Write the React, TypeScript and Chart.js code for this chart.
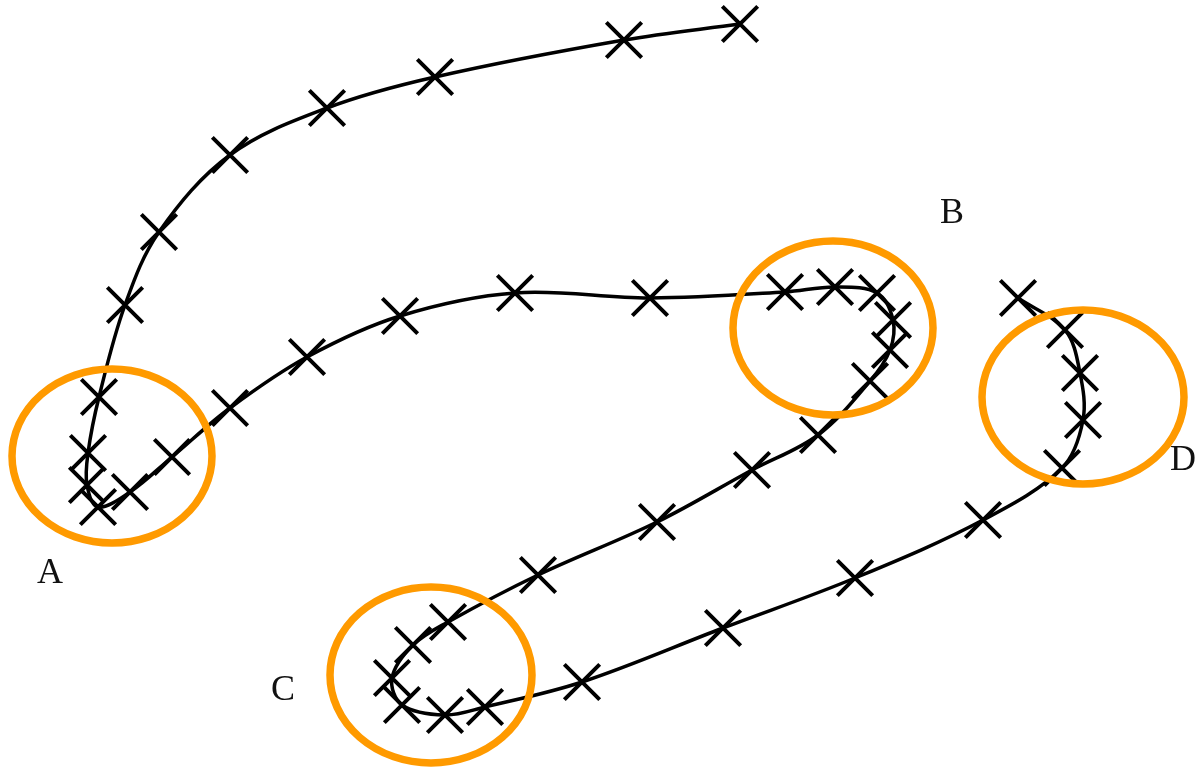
import React, { useEffect, useRef } from "react";
import { Chart, registerables } from "chart.js";

Chart.register(...registerables);

// Trajectory sample positions (image coordinate space, y grows downward)
const pathX = [740, 624, 435, 327, 230, 159, 125, 99, 88, 87, 98, 130, 172, 230, 307, 400, 515, 650, 785, 835, 877, 893, 890, 870, 818, 752, 657, 538, 448, 413, 392, 402, 445, 485, 582, 723, 855, 983, 1062, 1083, 1080, 1065, 1018];
const pathY = [24, 40, 77, 108, 155, 232, 305, 397, 453, 485, 507, 492, 457, 408, 357, 316, 293, 298, 292, 287, 293, 320, 350, 381, 435, 470, 522, 575, 622, 645, 678, 705, 715, 707, 682, 628, 578, 520, 468, 420, 373, 330, 298];

// Highlight regions (ellipses)
const regionCX = [112, 833, 431, 1083];
const regionCY = [456, 328, 675, 397];
const regionRX = [100, 100, 101, 101];
const regionRY = [87, 87, 88, 87];

// Region labels
const labelText = ["A", "B", "C", "D"];
const labelX = [50, 952, 283, 1183];
const labelY = [583, 223, 700, 470];

const overlayPlugin = {
  id: "overlay",
  afterDatasetsDraw(chart: any) {
    const { ctx, scales } = chart;
    const xs = scales.x;
    const ys = scales.y;
    ctx.save();
    ctx.strokeStyle = "#FF9A00";
    ctx.lineWidth = 7.5;
    for (let i = 0; i < regionCX.length; i++) {
      const cx = xs.getPixelForValue(regionCX[i]);
      const cy = ys.getPixelForValue(regionCY[i]);
      const rx = Math.abs(xs.getPixelForValue(regionCX[i] + regionRX[i]) - cx);
      const ry = Math.abs(ys.getPixelForValue(regionCY[i] + regionRY[i]) - cy);
      ctx.beginPath();
      ctx.ellipse(cx, cy, rx, ry, 0, 0, Math.PI * 2);
      ctx.stroke();
    }
    ctx.fillStyle = "#111111";
    ctx.font = '36px "Liberation Serif", "DejaVu Serif", serif';
    ctx.textAlign = "center";
    ctx.textBaseline = "alphabetic";
    for (let i = 0; i < labelText.length; i++) {
      ctx.fillText(labelText[i], xs.getPixelForValue(labelX[i]), ys.getPixelForValue(labelY[i]));
    }
    ctx.restore();
  },
};

export default function App() {
  const ref = useRef<HTMLCanvasElement | null>(null);
  useEffect(() => {
    if (!ref.current) return;
    const data = pathX.map((x, i) => ({ x, y: pathY[i] }));
    const chart = new Chart(ref.current, {
      type: "scatter",
      data: {
        datasets: [
          {
            data,
            showLine: true,
            borderColor: "#000000",
            borderWidth: 3.5,
            tension: 0.35,
            pointStyle: "crossRot",
            pointRadius: 25,
            pointBorderWidth: 4,
            pointBorderColor: "#000000",
            pointBackgroundColor: "#000000",
            clip: false as any,
          },
        ],
      },
      options: {
        responsive: false,
        animation: false,
        layout: { padding: 0, autoPadding: false },
        plugins: { legend: { display: false }, tooltip: { enabled: false } },
        scales: {
          x: { type: "linear", min: 0, max: 1200, display: false },
          y: { type: "linear", min: 0, max: 767, reverse: true, display: false },
        },
      },
      plugins: [overlayPlugin],
    });
    return () => chart.destroy();
  }, []);
  return (
    <div style={{ position: "fixed", left: 0, top: 0, width: 1200, height: 767, background: "#fff" }}>
      <canvas ref={ref} width={1200} height={767} />
    </div>
  );
}
